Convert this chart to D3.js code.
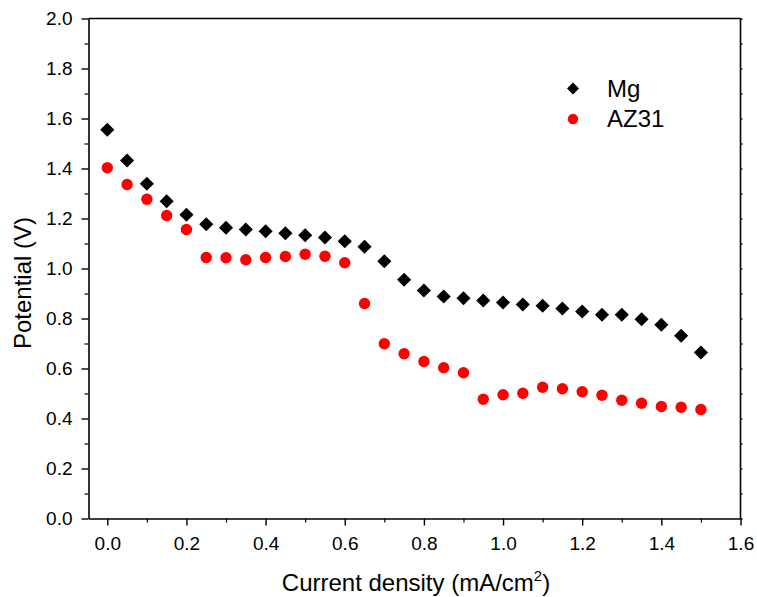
<!DOCTYPE html>
<html><head><meta charset="utf-8">
<script src="https://cdn.jsdelivr.net/npm/d3@7/dist/d3.min.js"></script>
<style>body{margin:0;background:#fff}svg{display:block}text{font-family:"Liberation Sans",Arial,sans-serif}</style>
</head><body><svg id="c" width="757" height="597"></svg>
<script>
const currentDensity = [0,0.05,0.1,0.15,0.2,0.25,0.3,0.35,0.4,0.45,0.5,0.55,0.6,0.65,0.7,0.75,0.8,0.85,0.9,0.95,1.0,1.05,1.1,1.15,1.2,1.25,1.3,1.35,1.4,1.45,1.5];
const mgPotential = [1.555,1.432,1.339,1.269,1.215,1.177,1.163,1.156,1.149,1.141,1.133,1.124,1.109,1.087,1.029,0.955,0.912,0.888,0.881,0.872,0.864,0.856,0.851,0.840,0.828,0.815,0.815,0.797,0.775,0.731,0.664];
const az31Potential = [1.403,1.336,1.277,1.212,1.156,1.044,1.043,1.035,1.044,1.048,1.057,1.049,1.023,0.860,0.699,0.659,0.628,0.603,0.583,0.477,0.495,0.501,0.525,0.519,0.507,0.493,0.473,0.461,0.448,0.445,0.436];
const xTicks = [0,0.2,0.4,0.6,0.8,1.0,1.2,1.4,1.6];
const yTicks = [0,0.2,0.4,0.6,0.8,1.0,1.2,1.4,1.6,1.8,2.0];
const seriesNames = ["Mg","AZ31"];

const svg = d3.select("#c");
const L=88.5, R=740.5, T=18.5, B=518.5;
const x = d3.scaleLinear().domain([-0.0475,1.6]).range([L,R]);
const y = d3.scaleLinear().domain([0,2]).range([B,T]);

svg.append("line").attr("x1",L).attr("x2",R).attr("y1",T).attr("y2",T).attr("stroke","#000").attr("stroke-width",1.6);
svg.append("line").attr("x1",R).attr("x2",R).attr("y1",T).attr("y2",B).attr("stroke","#000").attr("stroke-width",1.6);

const xMinor = d3.range(0.1,1.6,0.2);
const yMinor = d3.range(0.1,2.0,0.2);
const gx = svg.append("g").attr("transform",`translate(0,${B})`)
  .call(d3.axisBottom(x).tickValues(xTicks).tickFormat(d3.format(".1f")).tickSizeInner(7).tickSizeOuter(0).tickPadding(11));
gx.selectAll(".tick text").attr("font-size",19).attr("font-family","Liberation Sans, Arial, sans-serif");
gx.select(".domain").attr("stroke-width",1.6);
gx.selectAll(".tick line").attr("stroke-width",1.4);
svg.append("g").attr("transform",`translate(0,${B})`).call(d3.axisBottom(x).tickValues(xMinor).tickFormat("").tickSizeInner(4).tickSizeOuter(0))
  .call(g=>g.select(".domain").remove()).selectAll("line").attr("stroke-width",1.2);

const gy = svg.append("g").attr("transform",`translate(${L},0)`)
  .call(d3.axisLeft(y).tickValues(yTicks).tickFormat(d3.format(".1f")).tickSizeInner(7).tickSizeOuter(0).tickPadding(9));
gy.selectAll(".tick text").attr("font-size",19).attr("font-family","Liberation Sans, Arial, sans-serif");
gy.select(".domain").attr("stroke-width",1.6);
gy.selectAll(".tick line").attr("stroke-width",1.4);
svg.append("g").attr("transform",`translate(${L},0)`).call(d3.axisLeft(y).tickValues(yMinor).tickFormat("").tickSizeInner(4).tickSizeOuter(0))
  .call(g=>g.select(".domain").remove()).selectAll("line").attr("stroke-width",1.2);

svg.append("g").attr("transform",`translate(${R},0)`).call(d3.axisLeft(y).tickValues(yTicks.concat(yMinor)).tickFormat("").tickSizeInner(-2).tickSizeOuter(0))
  .call(g=>g.select(".domain").remove()).selectAll("line").attr("stroke-width",1.4);

const sq = d3.symbol().type(d3.symbolSquare).size(100);
svg.append("g").selectAll("path").data(currentDensity).join("path")
  .attr("d", sq).attr("transform",(d,i)=>`translate(${x(d)},${y(mgPotential[i])}) rotate(45)`).attr("fill","#000");
svg.append("g").selectAll("circle").data(currentDensity).join("circle")
  .attr("cx",d=>x(d)).attr("cy",(d,i)=>y(az31Potential[i])).attr("r",5.7).attr("fill","#ff0000");

svg.append("path").attr("d",d3.symbol().type(d3.symbolSquare).size(72)).attr("transform","translate(573,88.5) rotate(45)").attr("fill","#000");
svg.append("circle").attr("cx",573).attr("cy",119).attr("r",5.2).attr("fill","#ff0000");
svg.append("text").attr("x",607).attr("y",97).attr("font-size",24).text(seriesNames[0]);
svg.append("text").attr("x",607).attr("y",127).attr("font-size",24).text(seriesNames[1]);

const xt = svg.append("text").attr("x",416).attr("y",591).attr("text-anchor","middle").attr("font-size",24);
xt.append("tspan").text("Current density (mA/cm");
xt.append("tspan").attr("font-size",15).attr("dy",-10).text("2");
xt.append("tspan").attr("dy",10).text(")");
svg.append("text").attr("transform","translate(31,283) rotate(-90)").attr("text-anchor","middle").attr("font-size",24).text("Potential (V)");
</script></body></html>
